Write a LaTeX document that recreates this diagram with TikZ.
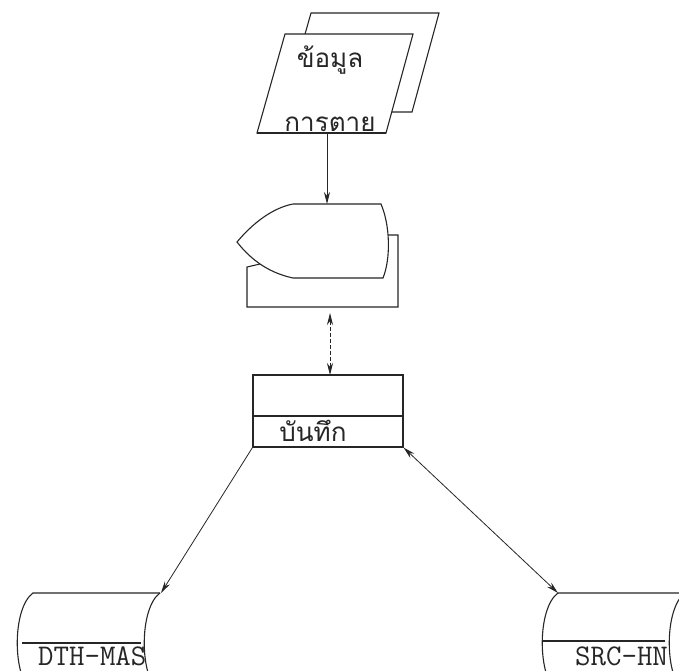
\documentclass[tikz,border=0pt]{standalone}
\usepackage{fontspec}
\newfontfamily\thaifont[Script=Thai]{Loma}
\usetikzlibrary{arrows.meta}
\tikzset{
  ln/.style={draw=black!85, line width=1.1pt},
  conn/.style={draw=black!85, line width=0.8pt},
  tip/.style={-{Stealth[length=12pt,width=6pt]}},
  dtip/.style={{Stealth[length=12pt,width=6pt]}-{Stealth[length=12pt,width=6pt]}},
  thaitxt/.style={font=\thaifont\fontsize{26}{28}\selectfont, inner sep=0pt, anchor=base, text=black!85},
  monotxt/.style={font=\ttfamily\fontsize{30}{32}\selectfont, inner sep=0pt, anchor=base west, text=black!85},
}
\begin{document}
\begin{tikzpicture}[x=1pt,y=-1pt]
\useasboundingbox (0,0) rectangle (679,670);
\clip (0,0) rectangle (679,670);
\fill[white] (0,0) rectangle (679,670);

% document (input data) with back copy
\filldraw[ln, fill=white] (311,13) -- (439,13) -- (412,112) -- (283,112) -- cycle;
\filldraw[ln, fill=white] (285,34) -- (413,34) -- (386,133) -- (257,133) -- cycle;
\draw[draw=black!85, line width=1.8pt] (257,133) -- (386,133);
\node[thaitxt] (t1) at (330,67) {ข้อมูล};
\node[thaitxt] (t2) at (330,131) {การตาย};
\coordinate (docB) at (327,134);

% display with back box
\draw[ln] (386,235) -- (398,235) -- (398,307) -- (247,307) -- (247,267) -- (260,264);
\filldraw[ln, fill=white] (293,204) -- (381,204) .. controls (390,225) and (391,258) .. (383,278)
  -- (293,278) .. controls (265,272) and (248,256) .. (237,242)
  .. controls (252,224) and (272,208) .. (293,204) -- cycle;
\coordinate (dispT) at (327,204);
\coordinate (dispB) at (330,313);

% record box
\node[ln, rectangle, minimum width=150pt, minimum height=72pt, inner sep=0pt] (rec) at (328,411) {};
\draw[ln] (253,416) -- (403,416);
\node[thaitxt] (t3) at (313,441) {บันทึก};
\coordinate (recT) at (330,375);

% left drum DTH-MAS
\node[monotxt] (m1) at (38,665) {DTH-MAS};
\draw[ln] (160,593) -- (33,593) .. controls (12,608) and (12,678) .. (33,693) -- (160,693);
\draw[ln] (160,593) .. controls (139,608) and (139,678) .. (160,693);
\draw[ln] (22,643) -- (141,643);
\coordinate (dthT) at (161,593);

% right drum SRC-HN
\node[monotxt] (m2) at (575,665) {SRC-HN};
\draw[ln] (685,593) -- (558,593) .. controls (537,608) and (537,678) .. (558,693) -- (685,693);
\draw[ln] (685,593) .. controls (664,608) and (664,678) .. (685,693);
\draw[ln] (543,641) -- (665,641);
\coordinate (srcT) at (558,593);

% connectors
\draw[conn, tip] (docB) -- (dispT);
\draw[conn, dashed, dash pattern=on 4pt off 2pt, dtip] (dispB) -- (recT);
\draw[conn, tip] (rec.south west) -- (dthT);
\draw[conn, dtip] (rec.south east) -- (srcT);
\end{tikzpicture}
\end{document}
